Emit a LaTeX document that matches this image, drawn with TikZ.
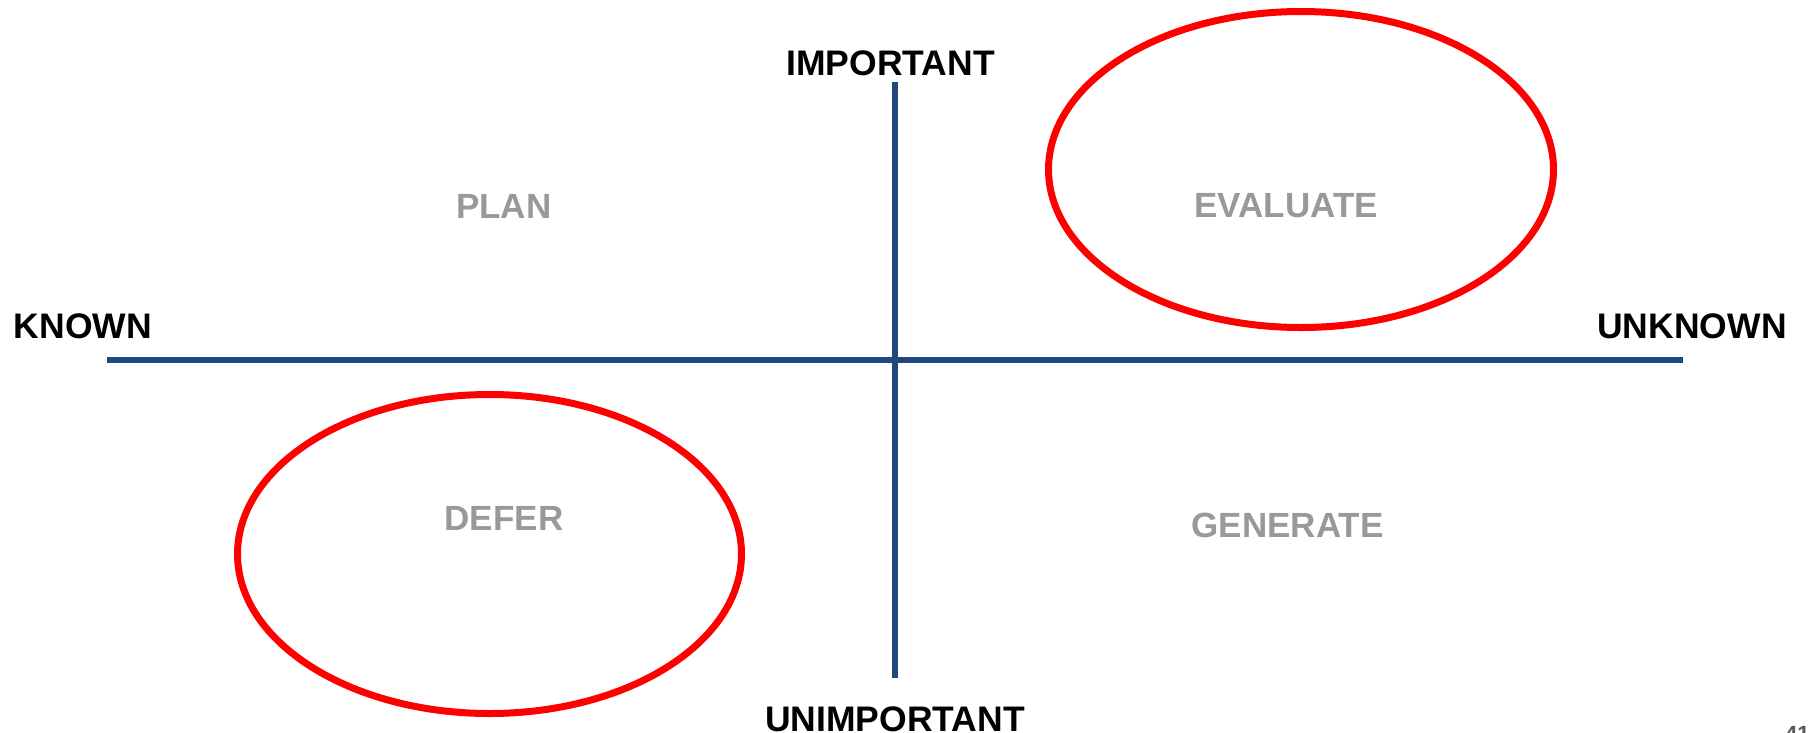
\documentclass[tikz,border=0pt]{standalone}
\usepackage{fontspec}
\setmainfont{Liberation Sans}
\usepackage{xcolor}
\usetikzlibrary{shapes.geometric, positioning}

\definecolor{axisblue}{RGB}{31,73,125}
\definecolor{ringred}{RGB}{255,0,0}
\definecolor{quadgray}{RGB}{153,153,153}

\begin{document}
\begin{tikzpicture}[x=1pt, y=-1pt,
        axislabel/.style={inner sep=0pt, font=\fontsize{35.5}{40}\selectfont\bfseries, text=black},
        quadlabel/.style={inner sep=0pt, font=\fontsize{35}{40}\selectfont\bfseries, text=quadgray},
        ring/.style={ellipse, draw=ringred, line width=7pt, inner sep=0pt}]
        \useasboundingbox (0, 0) rectangle (1810, 732);

        % axes
        \coordinate (west) at (107, 360.3);
        \coordinate (east) at (1683, 360.3);
        \coordinate (north) at (894.7, 82);
        \coordinate (south) at (894.7, 678);
        \draw[axisblue, line width=6pt] (west) -- (east);
        \draw[axisblue, line width=6pt] (north) -- (south);

        \node[axislabel] (important) at (890.5, 63.3) {IMPORTANT};
        \node[axislabel] (unimportant) at (895, 719.5) {UNIMPORTANT};
        \node[axislabel] (known) at (83, 326.5) {KNOWN};
        \node[axislabel] (unknown) at (1692, 326.5) {UNKNOWN};

        % quadrants
        \node[quadlabel] (plan) at (503.7, 206.7) {PLAN};
        \node[quadlabel] (evaluate) at (1286, 206) {EVALUATE};
        \node[quadlabel] (defer) at (504, 518) {DEFER};
        \node[quadlabel] (generate) at (1287.5, 525.7) {GENERATE};

        % rings
        \node[ring, minimum width=505pt, minimum height=316pt] (evalring) at (1301, 169.5) {};
        \node[ring, minimum width=504pt, minimum height=319pt] (deferring) at (489.5, 554) {};

        \node[inner sep=0pt, anchor=north west, text=black!65, font=\fontsize{22}{26}\selectfont\bfseries] (pagenum) at (1785, 726) {41};
    \end{tikzpicture}
\end{document}
